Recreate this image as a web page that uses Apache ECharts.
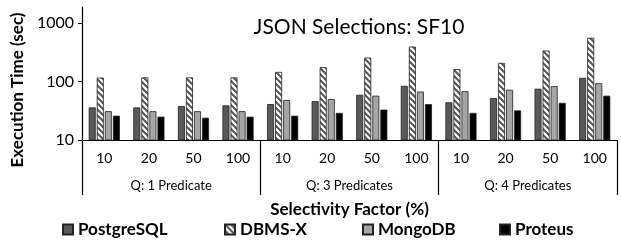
<!DOCTYPE html>
<html>
<head>
<meta charset="utf-8">
<script src="https://cdn.jsdelivr.net/npm/echarts@6/dist/echarts.min.js"></script>
<style>
  html, body { margin: 0; padding: 0; background: #fff; }
  #chart { width: 621px; height: 243px; }
</style>
</head>
<body>
<div id="chart"></div>
<script>
// selectivity factor per group, 3 query groups
const groups = ["Q: 1 Predicate", "Q: 3 Predicates", "Q: 4 Predicates"]
const selectivity = ["10", "20", "50", "100"]
const categories = groups.flatMap(g => selectivity.map(s => s))
const yTicks = [10, 100, 1000]
const systems = ["PostgreSQL", "DBMS-X", "MongoDB", "Proteus"]

const postgres = [36, 36, 38, 39, 41, 46, 59, 84, 44, 52, 75, 115]
const dbmsx = [116, 117, 117, 117, 145, 175, 255, 393, 162, 207, 336, 554]
const mongo = [31, 31, 31, 31, 48, 50, 57, 67, 68, 72, 83, 93]
const proteus = [26, 25, 24, 25, 26, 29, 33, 41, 29, 32, 43, 57]

const font = "Lato"

// diagonal hatch for DBMS-X
function hatch() {
  const s = 6
  const c = document.createElement("canvas")
  c.width = s
  c.height = s
  const ctx = c.getContext("2d")
  ctx.fillStyle = "#fff"
  ctx.fillRect(0, 0, s, s)
  ctx.strokeStyle = "#555"
  ctx.lineWidth = 2
  ctx.beginPath()
  ctx.moveTo(-1, -1); ctx.lineTo(s + 1, s + 1)
  ctx.moveTo(-1, s - 1); ctx.lineTo(1, s + 1)
  ctx.moveTo(s - 1, -1); ctx.lineTo(s + 1, 1)
  ctx.stroke()
  return c
}

const chart = echarts.init(document.getElementById("chart"))

function bar(name, data, color) {
  return {
    name: name,
    type: "bar",
    data: data,
    barWidth: 7,
    barGap: "15%",
    itemStyle: { color: color, borderColor: "#222", borderWidth: 0.8 }
  }
}

// one legend per entry so the spacing follows the original
const legendLeft = [57, 219, 357, 494]
const legends = systems.map((s, i) => ({
  left: legendLeft[i],
  top: 216,
  itemWidth: 10,
  itemHeight: 10,
  icon: "rect",
  selectedMode: false,
  textStyle: { fontFamily: font, fontSize: 17, fontWeight: "bold", color: "#000" },
  data: [s]
}))

chart.setOption({
  animation: false,
  title: {
    text: "JSON Selections: SF10",
    left: 354,
    top: 12,
    textAlign: "center",
    textStyle: { fontFamily: font, fontSize: 21, fontWeight: "normal", color: "#000" }
  },
  legend: legends,
  grid: { left: 82, right: 4, top: 7, bottom: 103 },
  xAxis: [
    {
      type: "category",
      data: categories,
      axisLine: { lineStyle: { color: "#000", width: 1.2 } },
      axisTick: { show: false },
      axisLabel: { margin: 11, fontFamily: font, fontSize: 14, color: "#000" }
    },
    {
      type: "category",
      data: groups,
      position: "bottom",
      axisLine: { show: false },
      axisTick: { show: true, alignWithLabel: false, length: 55, lineStyle: { color: "#000", width: 1.2 } },
      axisLabel: { margin: 39, fontFamily: font, fontSize: 13, color: "#000" },
      name: "Selectivity Factor (%)",
      nameLocation: "middle",
      nameGap: 61,
      nameTextStyle: { fontFamily: font, fontSize: 17, fontWeight: "bold", color: "#000" }
    }
  ],
  yAxis: {
    type: "log",
    logBase: 10,
    min: 10,
    max: 1860,
    interval: 1,
    splitLine: { show: false },
    axisLine: { show: true, lineStyle: { color: "#000", width: 1.2 } },
    axisTick: { show: true, length: 4, customValues: yTicks, lineStyle: { color: "#000" } },
    axisLabel: {
      customValues: yTicks,
      margin: 8,
      fontFamily: font,
      fontSize: 16,
      color: "#000",
      formatter: v => String(Math.round(v))
    }
  },
  graphic: [
    {
      type: "text",
      x: 18,
      y: 90,
      rotation: Math.PI / 2,
      style: {
        text: "Execution Time (sec)",
        font: "bold 17px Lato",
        fill: "#000",
        textAlign: "center",
        textVerticalAlign: "middle"
      }
    }
  ],
  series: [
    bar(systems[0], postgres, "#595959"),
    bar(systems[1], dbmsx, { image: hatch(), repeat: "repeat" }),
    bar(systems[2], mongo, "#a6a6a6"),
    bar(systems[3], proteus, "#000")
  ]
})
</script>
</body>
</html>
